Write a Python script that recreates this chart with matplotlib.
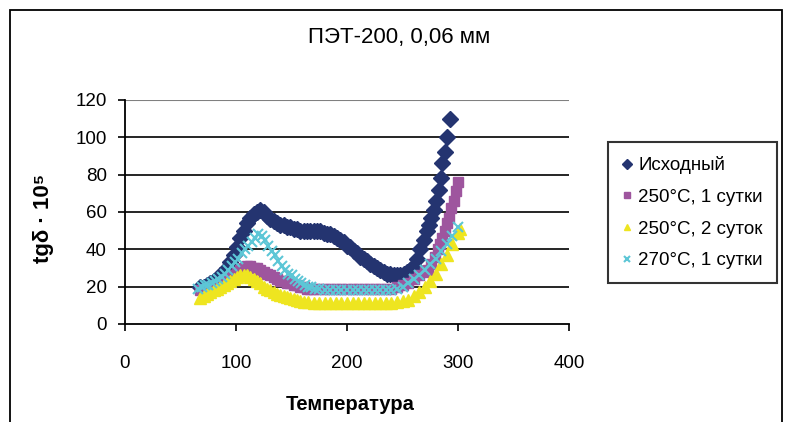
import matplotlib
matplotlib.use("Agg")
import matplotlib.pyplot as plt
from matplotlib.patches import Rectangle

plt.rcParams['font.family'] = ['Liberation Sans', 'DejaVu Sans']

# Исходный
t_orig = [68, 71, 74, 77, 80, 83, 86, 89, 92, 95, 98, 101, 104, 107, 110, 113, 116, 119,
          122, 125, 128, 131, 134, 137, 140, 143, 146, 149, 152, 155, 158, 161, 164, 167,
          170, 173, 176, 179, 182, 185, 188, 191, 194, 197, 200, 203, 206, 209, 212, 215,
          218, 221, 224, 227, 230, 233, 236, 239, 242, 245, 248, 251, 254, 257, 260, 263,
          266, 269, 272, 274, 276, 278, 280, 283, 285, 286, 288, 290, 293]
v_orig = [20, 20, 21, 22, 23, 24, 26, 28, 30, 33, 37, 41, 46, 50, 54, 57, 59, 60,
          61, 60, 58, 56, 55, 54, 53, 53, 52, 52, 51, 51, 50, 50, 50, 50,
          50, 50, 50, 49, 48, 48, 47, 46, 45, 44, 42, 41, 39, 38, 36, 35,
          34, 32, 31, 30, 29, 28, 27, 27, 26, 26, 26, 27, 28, 29, 31, 35,
          40, 45, 50, 53, 57, 61, 66, 72, 78, 86, 92, 100, 110]

# 250°C, 1 сутки
t_250_1 = [68, 71, 74, 77, 80, 83, 86, 89, 92, 95, 98, 101, 104, 107, 110, 113, 116, 119,
           122, 125, 128, 131, 134, 137, 140, 143, 146, 149, 152, 155, 158, 161, 164, 167,
           170, 175, 180, 185, 190, 195, 200, 205, 210, 215, 220, 225, 230, 235, 240, 245,
           250, 255, 260, 265, 270, 273, 276, 279, 282, 284, 286, 288, 290, 292, 294, 296,
           298, 300]
v_250_1 = [18, 19, 19, 20, 21, 21, 22, 23, 24, 25, 26, 28, 29, 30, 31, 31, 30, 30,
           29, 28, 27, 26, 25, 24, 23, 23, 22, 22, 21, 21, 20, 20, 19, 19,
           19, 19, 19, 19, 19, 19, 19, 19, 19, 19, 19, 19, 19, 19, 19, 20,
           21, 22, 24, 26, 28, 29, 32, 36, 40, 43, 46, 50, 54, 57, 62, 66,
           71, 76]

# 250°C, 2 суток
t_250_2 = [68, 71, 74, 77, 80, 83, 86, 89, 92, 95, 98, 101, 104, 107, 110, 113, 116, 119,
           122, 125, 128, 131, 134, 137, 140, 143, 146, 149, 152, 155, 158, 161, 165, 170,
           175, 180, 185, 190, 195, 200, 205, 210, 215, 220, 225, 230, 235, 240, 245, 250,
           255, 260, 265, 270, 275, 280, 285, 290, 295, 300, 302]
v_250_2 = [14, 15, 16, 17, 18, 19, 20, 21, 22, 23, 24, 25, 26, 26, 26, 25, 24, 23,
           22, 20, 19, 18, 17, 16, 15.5, 15, 14.5, 14, 13.5, 13, 12.5, 12, 12, 11.5,
           11.5, 11, 11, 11, 11, 11, 11, 11, 11, 11, 11, 11, 11, 11.5, 12, 12.5,
           13, 15, 17, 20, 23, 27, 32, 37, 43, 49, 51]

# 270°C, 1 сутки
t_270_1 = [66, 69, 72, 75, 78, 81, 84, 87, 90, 93, 96, 99, 102, 105, 108, 111, 114, 117,
           120, 123, 126, 129, 132, 135, 138, 141, 144, 147, 150, 153, 156, 159, 162, 165,
           168, 171, 175, 180, 185, 190, 195, 200, 205, 210, 215, 220, 225, 230, 235, 240,
           245, 250, 255, 260, 265, 270, 275, 280, 285, 290, 295, 300]
v_270_1 = [19, 20, 21, 21, 22, 23, 24, 25, 27, 29, 31, 33, 35, 38, 40, 42, 44, 46,
           48, 47, 45, 42, 39, 37, 34, 31, 29, 27, 26, 24, 23, 22, 21, 20,
           20, 19, 19, 18, 18, 18, 18, 18, 18, 18, 18, 18, 18, 18, 18, 18,
           19, 20, 22, 24, 26, 29, 32, 35, 39, 43, 47, 52]

fig = plt.figure(figsize=(7.86, 4.22), dpi=100)
fig.patches.append(Rectangle((10 / 786, -0.1), 772 / 786, 1.1 - 10 / 422, transform=fig.transFigure,
                             fill=False, edgecolor='black', linewidth=1.3))

ax = fig.add_axes([125 / 786, 1 - 324 / 422, 444 / 786, 224 / 422])

ax.plot(t_orig, v_orig, linestyle='none', marker='D', ms=8.5, color='#243470', label='Исходный')
ax.plot(t_250_1, v_250_1, linestyle='none', marker='s', ms=7, color='#9E559E',
        label='250°C, 1 сутки')
ax.plot(t_250_2, v_250_2, linestyle='none', marker='^', ms=8, color='#EEE520',
        label='250°C, 2 суток')
ax.plot(t_270_1, v_270_1, linestyle='none', marker='x', ms=7.5, mew=1.5, color='#5CC6D6',
        label='270°C, 1 сутки')

ax.set_xlim(0, 400)
ax.set_ylim(0, 120)
ax.set_xticks([0, 100, 200, 300, 400])
ax.set_yticks([0, 20, 40, 60, 80, 100, 120])
ax.tick_params(labelsize=13.5, direction='out', length=5, width=1.2)
ax.tick_params(axis='x', pad=17)
ax.tick_params(axis='y', pad=8)
for y in [20, 40, 60, 80, 100]:
    ax.axhline(y, color='black', linewidth=1.2, zorder=0)
ax.axhline(120, color='#808080', linewidth=1.5, zorder=0)
ax.spines['right'].set_visible(False)
ax.spines['top'].set_visible(False)
ax.spines['left'].set_linewidth(1.3)
ax.spines['bottom'].set_linewidth(1.3)

fig.text(399 / 786, 1 - 37 / 422, 'ПЭТ-200, 0,06 мм', ha='center', va='center', fontsize=16)
fig.text(350 / 786, 1 - 405 / 422, 'Температура', ha='center', va='center', fontsize=14.5,
         fontweight='bold')
fig.text(44 / 786, 1 - 218 / 422, 'tgδ · 10⁵', ha='center', va='center', fontsize=16,
         fontweight='bold', rotation=90)

leg = ax.legend(loc='upper left', bbox_to_anchor=(608 / 786, 1 - 142 / 422),
                bbox_transform=fig.transFigure, borderaxespad=0, fontsize=13.5,
                frameon=True, fancybox=False, shadow=False, handlelength=0.5,
                handletextpad=0.35, labelspacing=0.78, borderpad=0.75, markerscale=0.55)
leg.get_frame().set_edgecolor('black')
leg.get_frame().set_linewidth(1.5)

fig.savefig('out.png', dpi=100)
plt.close()
